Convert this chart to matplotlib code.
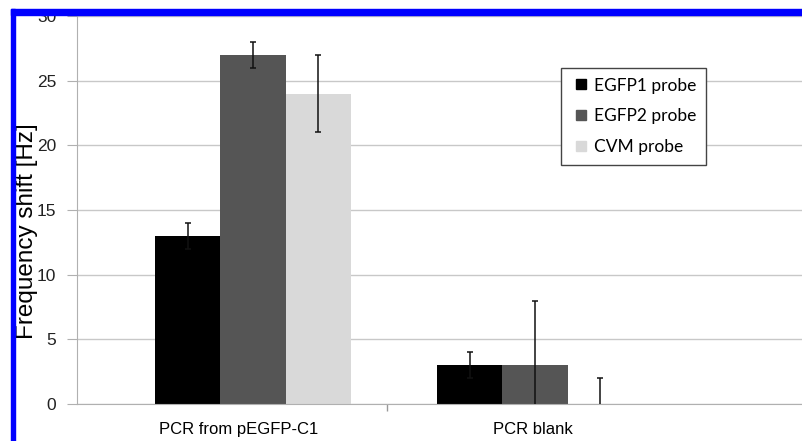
import matplotlib.pyplot as plt
from matplotlib.patches import Rectangle
from matplotlib.lines import Line2D
import numpy as np

categories = ["PCR from pEGFP-C1", "PCR blank"]
probes = ["EGFP1 probe", "EGFP2 probe", "CVM probe"]
egfp1 = [13, 3]
egfp2 = [27, 3]
cvm = [24, 0]
egfp1_err = [1, 1]
egfp2_err = [1, 5]
cvm_err = [3, 2]

colors = ["#000000", "#555555", "#d9d9d9"]
values = [egfp1, egfp2, cvm]
errors = [egfp1_err, egfp2_err, cvm_err]

plt.rcParams['font.family'] = ['Liberation Sans', 'DejaVu Sans']

fig = plt.figure(figsize=(8.03, 4.41), dpi=100)
ax = fig.add_axes([77 / 803, 37 / 441, 726 / 803, 388 / 441])

x = np.arange(len(categories))
w = 0.232
for i in range(3):
    pos = x + (i - 1) * w
    ax.bar(pos, values[i], w, color=colors[i], zorder=2)
    ax.errorbar(pos, values[i], yerr=errors[i], fmt='none', ecolor='#111111',
                elinewidth=1.1, capsize=2.5, capthick=1.1, zorder=3)

ax.set_xlim(-0.624, 1.95)
ax.set_ylim(0, 30)
ax.set_yticks(range(0, 31, 5))
ax.yaxis.grid(True, color='#c8c8c8', linewidth=1, zorder=0)
ax.set_axisbelow(True)

ax.set_xticks([-0.05, 0.993])
ax.set_xticklabels(categories, fontsize=12)
ax.set_xticks([0.475], minor=True)
ax.tick_params(axis='x', which='major', length=0, pad=13)
ax.tick_params(axis='x', which='minor', length=5, color='#999999', width=1)
ax.tick_params(axis='y', length=7, color='#b0b0b0', labelsize=12.5, pad=8,
               labelcolor='#222222')

for s in ['top', 'right']:
    ax.spines[s].set_visible(False)
ax.spines['left'].set_color('#b0b0b0')
ax.spines['bottom'].set_color('#b0b0b0')

ax.set_ylabel("Frequency shift [Hz]", fontsize=17.5)
ax.yaxis.set_label_coords(-0.054, 0.446)

handles = [Line2D([], [], marker='s', linestyle='none', markersize=6.5,
                  color=c) for c in colors]
leg = ax.legend(handles, probes, loc='upper left', bbox_to_anchor=(0.667, 0.866),
                borderaxespad=0, prop={'family': 'Lato', 'size': 12.5},
                fancybox=False, edgecolor='#444444', framealpha=1,
                handlelength=1.2, handletextpad=0.15, labelspacing=0.85,
                borderpad=0.55)
leg.get_frame().set_linewidth(1)

# blue frame on top and left
fig.add_artist(Rectangle((11 / 803, 0), 4 / 803, 432 / 441, transform=fig.transFigure,
                         color='#0000ff', zorder=10))
fig.add_artist(Rectangle((11 / 803, 426 / 441), 792 / 803, 6 / 441,
                         transform=fig.transFigure, color='#0000ff', zorder=10))

fig.savefig("out.png", dpi=100)
